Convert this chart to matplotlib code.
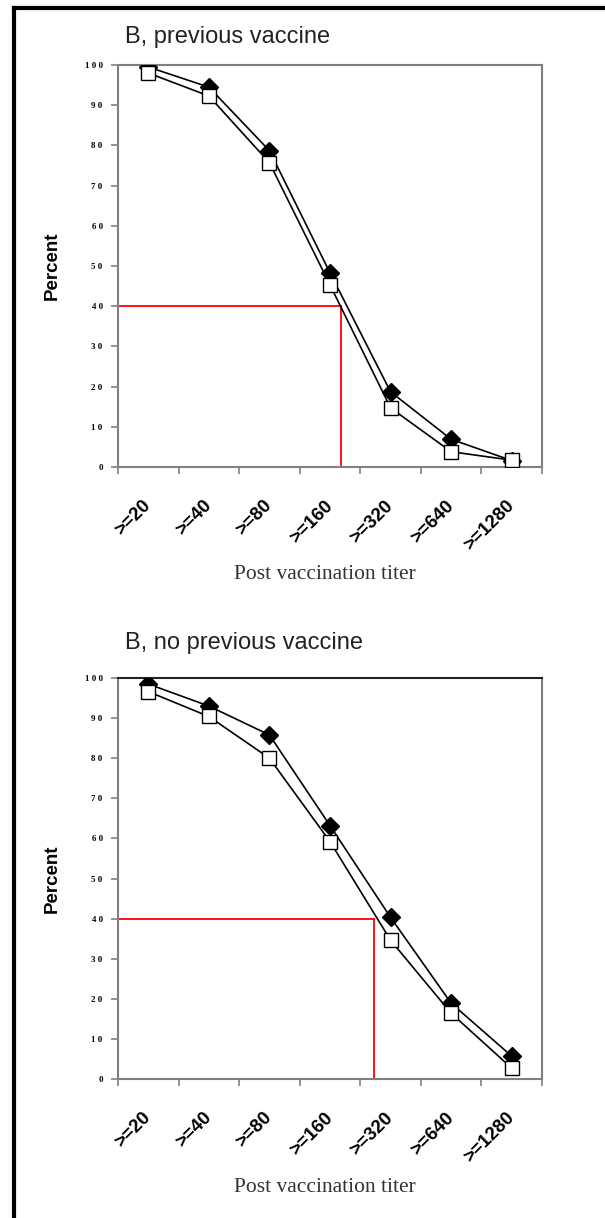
import matplotlib
matplotlib.use("Agg")
import matplotlib.pyplot as plt
import matplotlib.transforms as mtransforms
from matplotlib.lines import Line2D
import numpy as np

# data
titers = [">=20", ">=40", ">=80", ">=160", ">=320", ">=640", ">=1280"]
prev_filled = [99.5, 94.5, 78.7, 48.3, 18.7, 6.9, 1.6]
prev_open = [98.0, 92.3, 75.7, 45.3, 14.7, 3.8, 1.7]
noprev_filled = [98.5, 93.0, 85.8, 63.2, 40.3, 18.9, 5.7]
noprev_open = [96.6, 90.4, 80.0, 59.2, 34.6, 16.4, 2.7]
cutoff = 40
cutoff_x = [3.18, 3.73]
titles = ["B, previous vaccine", "B, no previous vaccine"]

W, H = 605, 1218
fig = plt.figure(figsize=(W / 100, H / 100), dpi=100)

def box(l, t, r, b):
    return [l / W, 1 - b / H, (r - l) / W, (b - t) / H]

panels = [
    (box(118, 65, 542, 467), prev_filled, prev_open, cutoff_x[0], 37, 575),
    (box(118, 678, 542, 1079), noprev_filled, noprev_open, cutoff_x[1], 643, 1188),
]

x = np.arange(len(titers))
yt = np.arange(0, 101, 10)
shift = mtransforms.ScaledTranslation(-7 / 100, 0, fig.dpi_scale_trans)

for i, (pos, filled, opn, cx, ty, xl) in enumerate(panels):
    ax = fig.add_axes(pos)
    ax.plot(x, filled, color="black", lw=1.2, marker="D", ms=9.5,
            mfc="black", mec="black", zorder=3)
    ax.plot(x, opn, color="black", lw=1.2, marker="s", ms=10.5,
            mfc="white", mec="black", mew=1.0, zorder=4)
    ax.plot([-0.5, cx], [cutoff, cutoff], color="red", lw=1.3, zorder=2)
    ax.plot([cx, cx], [0, cutoff], color="red", lw=1.3, zorder=2)

    ax.set_xlim(-0.5, len(titers) - 0.5)
    ax.set_ylim(0, 100)
    ax.set_yticks(yt)
    ax.set_yticklabels([" ".join(str(v)) for v in yt], fontsize=6.5,
                       fontweight="bold", family="Liberation Serif")
    ax.set_xticks(np.arange(-0.5, len(titers)), minor=False)
    ax.set_xticklabels([])
    ax.set_xticks(x, minor=True)
    ax.set_xticklabels(titers, minor=True, rotation=45, ha="right",
                       va="center", rotation_mode="anchor", fontsize=13.5,
                       fontweight="bold", family="Liberation Sans")
    for lab in ax.get_xticklabels(minor=True):
        lab.set_transform(lab.get_transform() + shift)
    ax.tick_params(axis="x", which="minor", length=0, pad=26)
    ax.tick_params(axis="both", which="major", direction="out", length=5,
                   width=1.2, color="#808080")
    ax.tick_params(axis="y", pad=6)
    for s in ax.spines.values():
        s.set_color("#808080")
        s.set_linewidth(1.5)
    if i == 1:
        ax.spines["top"].set_color("#222222")

    ax.set_ylabel("Percent", fontsize=13.5, fontweight="bold",
                  family="Liberation Sans", labelpad=17)
    fig.text(125 / W, 1 - ty / H, titles[i], fontsize=17,
             family="Liberation Sans", color="#222222", ha="left", va="center")
    fig.text(325 / W, 1 - xl / H, "Post vaccination titer", fontsize=15.5,
             family="Liberation Serif", color="#333333", ha="center",
             va="center")

# page frame
fig.add_artist(Line2D([14 / W, 14 / W], [0, 1 - 8 / H], color="black", lw=3))
fig.add_artist(Line2D([14 / W, 1], [1 - 8 / H, 1 - 8 / H], color="black", lw=3))

fig.savefig("out.png", dpi=100)
